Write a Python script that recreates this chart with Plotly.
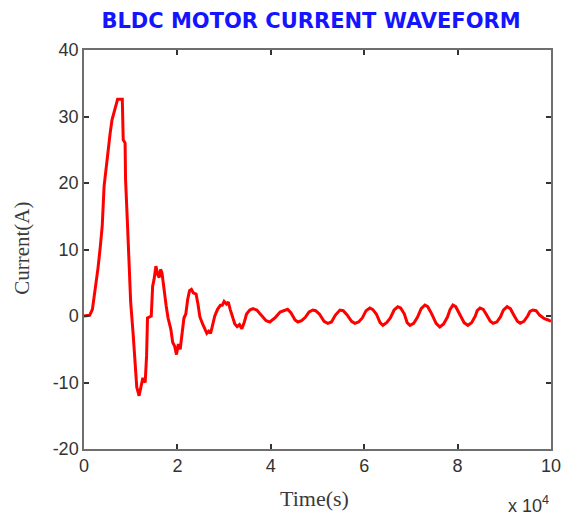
import plotly.graph_objects as go

# Time in units of 1e4 (axis shows "x 10^4")
time_e4 = [
    0.00, 0.12, 0.18, 0.24, 0.30, 0.35, 0.39, 0.43, 0.47, 0.50, 0.53, 0.56, 0.60, 0.64, 0.68, 0.72,
    0.82, 0.84, 0.88, 0.89, 0.93, 0.96, 1.00, 1.05, 1.09, 1.13, 1.18, 1.22, 1.26, 1.31, 1.34, 1.36,
    1.44, 1.47, 1.50, 1.54, 1.58, 1.61, 1.64, 1.67, 1.70, 1.76, 1.80, 1.86, 1.90, 1.94, 1.98, 2.02,
    2.06, 2.10, 2.14, 2.18, 2.22, 2.26, 2.30, 2.34, 2.40, 2.44, 2.48, 2.54, 2.59, 2.63, 2.67, 2.71,
    2.75, 2.80, 2.86, 2.92, 2.96, 3.00, 3.05, 3.09, 3.13, 3.17, 3.23, 3.28, 3.33, 3.38, 3.43, 3.48,
    3.55, 3.62, 3.70, 3.76, 3.83, 3.90, 3.98, 4.04, 4.10,
    4.20, 4.30, 4.36, 4.43, 4.52, 4.58, 4.66, 4.74, 4.82, 4.90, 4.96, 5.04, 5.14, 5.22, 5.30, 5.38,
    5.48, 5.55, 5.63, 5.73, 5.80, 5.88, 5.96, 6.04, 6.12, 6.18, 6.26, 6.34, 6.40, 6.48, 6.56, 6.64,
    6.72, 6.78, 6.86, 6.92, 6.98, 7.06, 7.14, 7.22, 7.30, 7.36, 7.44, 7.54, 7.62, 7.70, 7.78, 7.84,
    7.90, 7.96, 8.04, 8.14, 8.22, 8.30, 8.38, 8.42, 8.48, 8.55, 8.62, 8.70, 8.76, 8.84, 8.92, 8.98,
    9.06, 9.13, 9.20, 9.28, 9.34, 9.42, 9.50, 9.55, 9.61, 9.68, 9.76, 9.86, 9.94, 10.00,
]

current_a = [
    0.0, 0.1, 1.0, 3.9, 7.2, 10.5, 13.5, 19.5, 22.0, 24.5, 25.5, 27.5, 29.5, 30.5, 31.8, 32.6,
    32.6, 26.5, 26.0, 20.5, 14.0, 8.0, 2.0, -2.5, -6.6, -10.7, -12.0, -10.5, -9.3, -10.0, -6.0, -0.3,
    0.0, 4.5, 5.5, 7.5, 6.2, 5.8, 7.0, 6.5, 4.5, 1.5, -0.3, -2.0, -4.0, -4.5, -5.8, -4.2,
    -5.0, -2.5, -0.3, 0.3, 2.5, 3.8, 4.0, 3.5, 3.3, 1.8, -0.1, -1.2, -2.0, -2.6, -2.3, -2.6,
    -1.5, 0.0, 1.0, 1.6, 1.6, 2.2, 1.8, 2.1, 1.0, 0.0, -1.2, -1.6, -1.3, -1.9, -1.0, 0.3,
    0.9, 1.1, 0.9, 0.4, -0.1, -0.7, -0.9, -0.6, -0.2,
    0.6, 0.9, 1.0, 0.5, -0.6, -0.9, -0.7, -0.2, 0.6, 0.9, 0.8, 0.3, -0.8, -1.1, -0.9, 0.1,
    0.9, 0.8, 0.2, -0.8, -1.1, -0.9, -0.3, 0.8, 1.2, 1.0, 0.3, -1.0, -1.4, -1.0, -0.3, 0.9,
    1.4, 1.2, 0.3, -1.0, -1.4, -1.1, -0.2, 1.1, 1.65, 1.4, 0.4, -1.1, -1.65, -1.2, -0.2, 1.0,
    1.65, 1.4, 0.4, -1.0, -1.4, -1.0, 0.0, 0.8, 1.2, 1.0, 0.2, -0.8, -1.1, -0.9, -0.1, 0.9,
    1.4, 1.1, 0.2, -0.8, -1.1, -0.8, 0.0, 0.7, 0.9, 0.8, 0.1, -0.4, -0.6, -0.8,
]

x_ticks = [0, 2, 4, 6, 8, 10]
y_ticks = [-20, -10, 0, 10, 20, 30, 40]

fig = go.Figure()
fig.add_trace(go.Scatter(
    x=time_e4, y=current_a, mode="lines",
    line=dict(color="#ff0000", width=3),
    showlegend=False,
))

axis_common = dict(
    showline=True, mirror="ticks", linecolor="#6e6e6e", linewidth=1.5,
    ticks="inside", ticklen=5, tickwidth=1.5, tickcolor="#333333",
    showgrid=False, zeroline=False, automargin=False,
    tickfont=dict(family="Liberation Sans, Arial", size=18, color="#333333"),
)

fig.update_layout(
    width=563, height=516,
    margin=dict(l=84, r=12, t=50, b=67),
    paper_bgcolor="white", plot_bgcolor="white",
    title=dict(
        text="<b>BLDC MOTOR CURRENT WAVEFORM</b>",
        x=(311) / 563, xanchor="center",
        y=1 - 21 / 516, yanchor="middle",
        font=dict(family="DejaVu Sans", size=21, color="#1414ff"),
    ),
    xaxis=dict(range=[0, 10], tickvals=x_ticks, ticktext=[str(v) for v in x_ticks], **axis_common),
    yaxis=dict(range=[-20, 40], tickvals=y_ticks, ticktext=[str(v) for v in y_ticks], **axis_common),
)

fig.add_annotation(
    text="Time(s)", xref="paper", yref="paper",
    x=0.493, y=-0.123, xanchor="center", yanchor="middle", showarrow=False,
    font=dict(family="Liberation Serif, Times New Roman", size=22, color="#3a3a3a"),
)
fig.add_annotation(
    text="Current(A)", xref="paper", yref="paper",
    x=-0.133, y=0.504, xanchor="center", yanchor="middle", showarrow=False, textangle=-90,
    font=dict(family="Liberation Serif, Times New Roman", size=21, color="#3a3a3a"),
)
fig.add_annotation(
    text="x 10<sup>4</sup>", xref="paper", yref="paper",
    x=1.0, y=-0.14, xanchor="right", yanchor="middle", showarrow=False,
    font=dict(family="Liberation Sans, Arial", size=18, color="#333333"),
)

fig.write_html("out.html")
